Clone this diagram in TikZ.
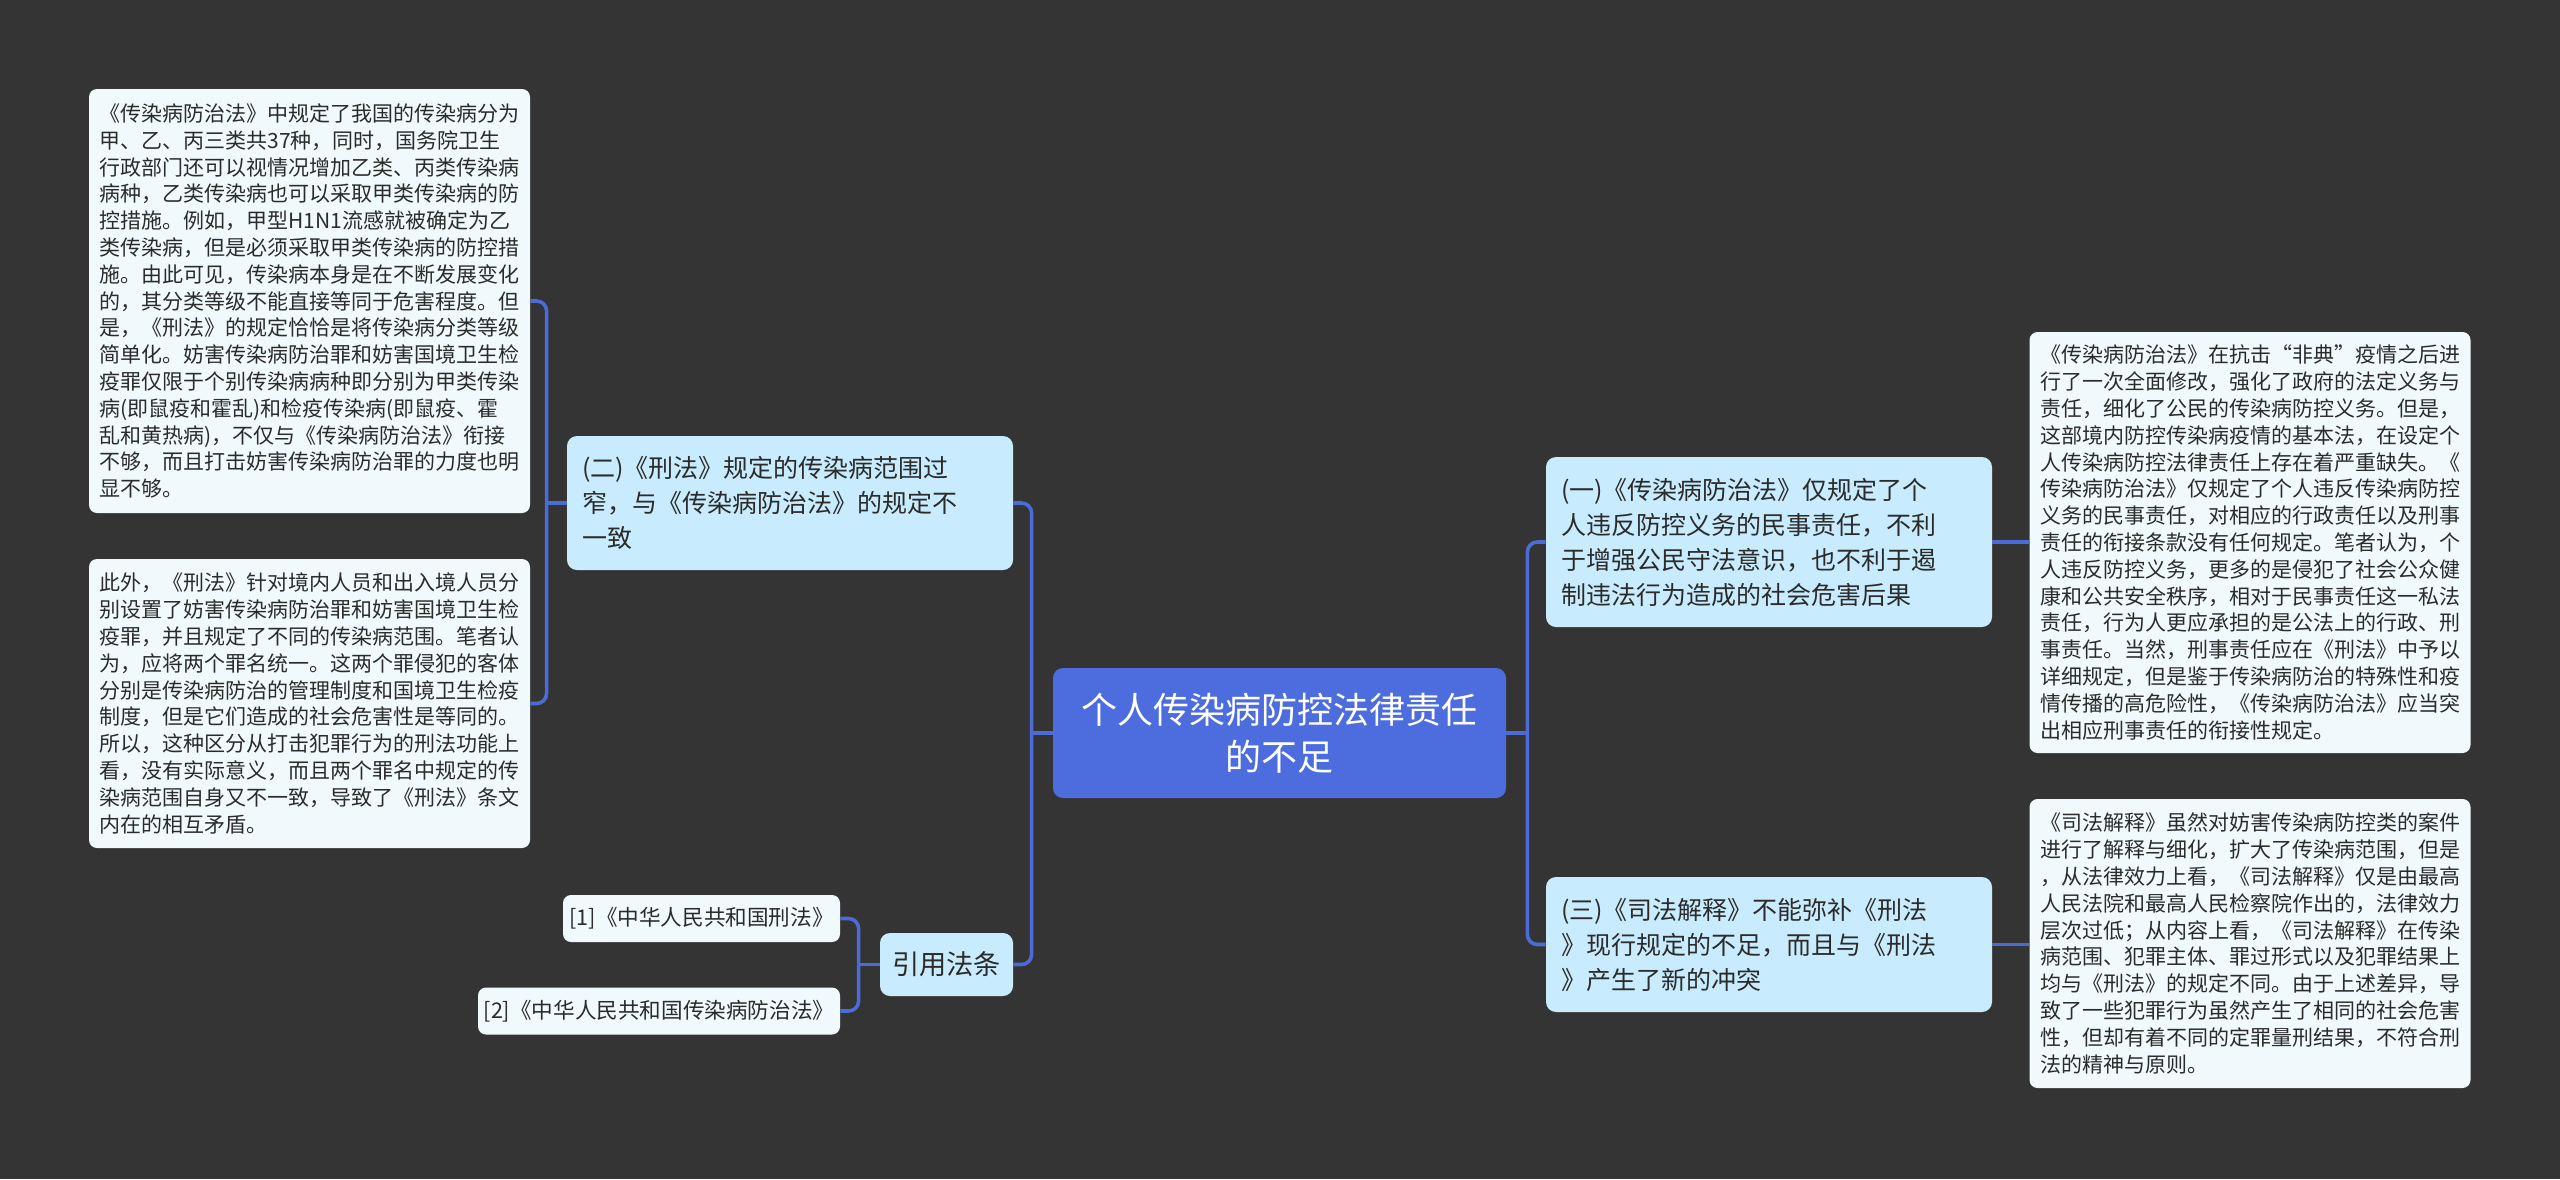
\documentclass[tikz,border=0pt]{standalone}
\usepackage{fontspec}
\setmainfont{Noto Sans CJK SC}
\usepackage{xcolor}
\usepackage{tikz}
\usetikzlibrary{calc}

\definecolor{canvas}{HTML}{343434}
\definecolor{linkblue}{HTML}{4B6BD6}
\definecolor{rootbg}{HTML}{4D6DDF}
\definecolor{branchbg}{HTML}{C8ECFD}
\definecolor{leafbg}{HTML}{F0FAFD}
\definecolor{ink}{HTML}{2B2B2B}

\begin{document}
\begin{tikzpicture}[x=0.5pt,y=-0.5pt,
  leaf/.style={fill=leafbg,text=ink,rounded corners=4pt,align=left,text width=210pt,inner xsep=5.25pt,inner ysep=0pt,font=\fontsize{10.5pt}{13.4pt}\selectfont},
  branch/.style={fill=branchbg,text=ink,rounded corners=5pt,align=left,text width=208pt,inner xsep=7.5pt,inner ysep=0pt,font=\fontsize{12.5pt}{17.5pt}\selectfont},
  hub/.style={fill=rootbg,text=white,rounded corners=5pt,align=center,text width=210pt,inner xsep=8.25pt,inner ysep=0pt,font=\fontsize{18pt}{23.5pt}\selectfont},
  refbox/.style={fill=leafbg,text=ink,rounded corners=4pt,inner sep=0pt,font=\fontsize{10.8pt}{13pt}\selectfont},
  link/.style={draw=linkblue,line width=1.8pt,rounded corners=5pt}]
\fill[canvas] (0,0) rectangle (2560,1179);
\useasboundingbox (0,0) rectangle (2560,1179);

\node[hub,minimum height=65pt] (root) at (1279.5,733) {个人传染病防控法律责任\\的不足};

\node[branch,minimum height=67pt] (sub2) at (790,503) {(二)《刑法》规定的传染病范围过\\窄，与《传染病防治法》的规定不\\一致};
\node[branch,minimum height=85pt] (sub1) at (1769,542) {(一)《传染病防治法》仅规定了个\\人违反防控义务的民事责任，不利\\于增强公民守法意识，也不利于遏\\制违法行为造成的社会危害后果};
\node[branch,minimum height=67.5pt] (sub3) at (1769,944.5) {(三)《司法解释》不能弥补《刑法\\》现行规定的不足，而且与《刑法\\》产生了新的冲突};
\node[fill=branchbg,text=ink,rounded corners=5pt,inner sep=0pt,minimum width=66.5pt,minimum height=31.5pt,font=\fontsize{13.6pt}{16pt}\selectfont] (cites) at (946.5,964.5) {引用法条};

\node[leaf,minimum height=212pt] (lawA) at (309.5,301) {《传染病防治法》中规定了我国的传染病分为\\甲、乙、丙三类共37种，同时，国务院卫生\\行政部门还可以视情况增加乙类、丙类传染病\\病种，乙类传染病也可以采取甲类传染病的防\\控措施。例如，甲型H1N1流感就被确定为乙\\类传染病，但是必须采取甲类传染病的防控措\\施。由此可见，传染病本身是在不断发展变化\\的，其分类等级不能直接等同于危害程度。但\\是，《刑法》的规定恰恰是将传染病分类等级\\简单化。妨害传染病防治罪和妨害国境卫生检\\疫罪仅限于个别传染病病种即分别为甲类传染\\病(即鼠疫和霍乱)和检疫传染病(即鼠疫、霍\\乱和黄热病)，不仅与《传染病防治法》衔接\\不够，而且打击妨害传染病防治罪的力度也明\\显不够。};
\node[leaf,minimum height=144.5pt] (lawB) at (309.5,703.5) {此外，《刑法》针对境内人员和出入境人员分\\别设置了妨害传染病防治罪和妨害国境卫生检\\疫罪，并且规定了不同的传染病范围。笔者认\\为，应将两个罪名统一。这两个罪侵犯的客体\\分别是传染病防治的管理制度和国境卫生检疫\\制度，但是它们造成的社会危害性是等同的。\\所以，这种区分从打击犯罪行为的刑法功能上\\看，没有实际意义，而且两个罪名中规定的传\\染病范围自身又不一致，导致了《刑法》条文\\内在的相互矛盾。};
\node[leaf,minimum height=210.5pt] (lawC) at (2250,542.5) {《传染病防治法》在抗击“非典”疫情之后进\\行了一次全面修改，强化了政府的法定义务与\\责任，细化了公民的传染病防控义务。但是，\\这部境内防控传染病疫情的基本法，在设定个\\人传染病防控法律责任上存在着严重缺失。《\\传染病防治法》仅规定了个人违反传染病防控\\义务的民事责任，对相应的行政责任以及刑事\\责任的衔接条款没有任何规定。笔者认为，个\\人违反防控义务，更多的是侵犯了社会公众健\\康和公共安全秩序，相对于民事责任这一私法\\责任，行为人更应承担的是公法上的行政、刑\\事责任。当然，刑事责任应在《刑法》中予以\\详细规定，但是鉴于传染病防治的特殊性和疫\\情传播的高危险性，《传染病防治法》应当突\\出相应刑事责任的衔接性规定。};
\node[leaf,minimum height=144.5pt] (lawD) at (2250,943.5) {《司法解释》虽然对妨害传染病防控类的案件\\进行了解释与细化，扩大了传染病范围，但是\\，从法律效力上看，《司法解释》仅是由最高\\人民法院和最高人民检察院作出的，法律效力\\层次过低；从内容上看，《司法解释》在传染\\病范围、犯罪主体、罪过形式以及犯罪结果上\\均与《刑法》的规定不同。由于上述差异，导\\致了一些犯罪行为虽然产生了相同的社会危害\\性，但却有着不同的定罪量刑结果，不符合刑\\法的精神与原则。};

\node[refbox,minimum width=138.5pt,minimum height=23.5pt] (ref1) at (701.5,918.5) {[1]《中华人民共和国刑法》};
\node[refbox,minimum width=181pt,minimum height=23.5pt] (ref2) at (659,1011) {[2]《中华人民共和国传染病防治法》};

\coordinate (lj) at ($(root.west)+(-21,0)$);
\coordinate (rj) at ($(root.east)+(21,0)$);
\coordinate (lk) at ($(sub2.west)+(-20,0)$);
\coordinate (ck) at ($(cites.west)+(-21,0)$);

\draw[link] (root.west) -- (lj);
\draw[link] (lj) |- (sub2.east);
\draw[link] (lj) |- (cites.east);
\draw[link] (root.east) -- (rj);
\draw[link] (rj) |- (sub1.west);
\draw[link] (rj) |- (sub3.west);
\draw[link] (sub2.west) -- (lk);
\draw[link] (lk) |- (lawA.east);
\draw[link] (lk) |- (lawB.east);
\draw[link] (sub1.east) -- (sub1.east -| lawC.west);
\draw[link] (sub3.east) -- (sub3.east -| lawD.west);
\draw[link] (cites.west) -- (ck);
\draw[link] (ck) |- (ref1.east);
\draw[link] (ck) |- (ref2.east);
\end{tikzpicture}
\end{document}
